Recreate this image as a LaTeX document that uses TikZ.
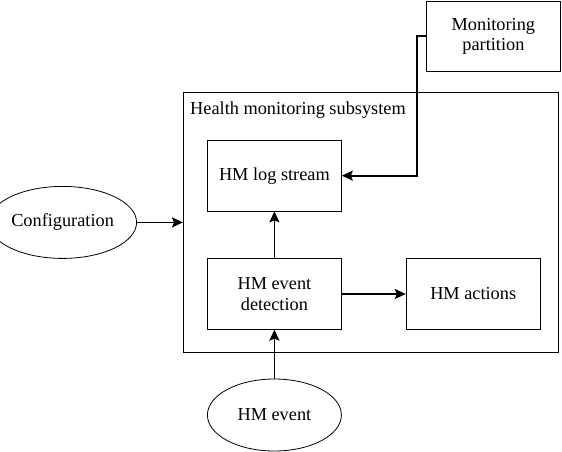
\documentclass[tikz,border=0pt]{standalone}
\usepackage{fontspec}
\setmainfont{Liberation Serif}
\usetikzlibrary{arrows.meta,positioning,shapes.geometric}

\begin{document}
\begin{tikzpicture}[
  x=1pt, y=1pt,
  font=\fontsize{18.3}{20.5}\selectfont, node distance=47pt and 64pt,
  block/.style={draw, line width=0.8pt, align=center, minimum width=134pt, minimum height=70.5pt, inner sep=2pt},
  source/.style={draw, ellipse, line width=0.8pt, align=center, minimum width=134pt, minimum height=72pt, inner sep=1pt},
  arr/.style={-{Stealth[length=11pt, width=10pt, inset=2pt]}, line width=1.8pt}]
  \useasboundingbox (0,0) rectangle (562,-451);
  % subsystem frame
  \node[draw, line width=0.8pt, minimum width=375pt, minimum height=260pt, anchor=north west] (health) at (183,-92) {};
  \node[anchor=base west, inner sep=0pt] (title) at ([shift={(7,-22)}]health.north west) {Health monitoring subsystem};
  % blocks inside the frame
  \node[block, anchor=north west] (log) at ([shift={(24,-48)}]health.north west) {HM log stream};
  \node[block, below=of log] (detect) {HM event\\detection};
  \node[block, right=of detect] (actions) {HM actions};
  % outside the frame
  \node[source, left=46pt of health] (config) {Configuration};
  \node[source, below=49pt of detect] (event) {HM event};
  \node[block, above=20pt of health.north east, anchor=south east, xshift=2pt] (monitor) {Monitoring\\partition};
  \draw[arr] (config.east) -- (health.west);
  \draw[arr] (detect) -- (log);
  \draw[arr] (detect) -- (actions);
  \draw[arr] (event) -- (detect);
  \draw[arr] (monitor.west) -- ++(-9,0) |- (log.east);
\end{tikzpicture}
\end{document}
